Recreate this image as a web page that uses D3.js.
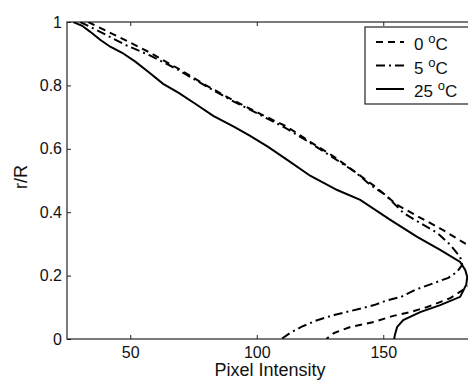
<!DOCTYPE html>
<html>
<head>
<meta charset="utf-8">
<script src="https://cdn.jsdelivr.net/npm/d3@7"></script>
<style>
  body { margin: 0; background: #fff; overflow: hidden; }
  svg { display: block; font-family: "Liberation Sans", Arial, sans-serif; }
</style>
</head>
<body>
<div id="vizcontainer"></div>
<script>
// intensity profiles (r/R vs pixel intensity)
const r0 = [1.000, 0.966, 0.935, 0.903, 0.849, 0.802, 0.758, 0.710, 0.669, 0.622, 0.575, 0.527, 0.483, 0.423, 0.388, 0.347, 0.309, 0.281, 0.243, 0.202, 0.180, 0.164, 0.129, 0.101, 0.085, 0.073, 0.054, 0.038, 0.019, 0];
const i0 = [33.4, 42.1, 50.0, 57.9, 69.8, 79.6, 89.5, 101.4, 112.1, 121.1, 130.6, 138.9, 146.4, 155.5, 163.4, 172.9, 180.8, 186.4, 189.9, 189.9, 187.5, 183.2, 176.5, 167.4, 160.7, 154.0, 146.4, 137.0, 130.6, 127.5];

const r5 = [1.000, 0.969, 0.928, 0.894, 0.849, 0.799, 0.755, 0.710, 0.666, 0.619, 0.572, 0.527, 0.486, 0.455, 0.398, 0.366, 0.335, 0.297, 0.259, 0.234, 0.212, 0.193, 0.177, 0.155, 0.133, 0.120, 0.107, 0.088, 0.076, 0.057, 0.038, 0.019, 0];
const i5 = [30.2, 38.1, 48.0, 57.9, 69.0, 79.6, 89.5, 100.6, 111.3, 121.1, 130.2, 138.9, 144.9, 150.8, 157.9, 164.6, 171.3, 176.5, 180.4, 181.2, 179.2, 175.7, 170.2, 162.6, 157.1, 150.8, 146.4, 137.0, 130.6, 123.1, 117.6, 113.2, 109.7];

const r25 = [1.000, 0.988, 0.969, 0.944, 0.922, 0.903, 0.875, 0.843, 0.805, 0.777, 0.742, 0.704, 0.669, 0.641, 0.606, 0.559, 0.515, 0.470, 0.439, 0.376, 0.322, 0.281, 0.243, 0.218, 0.196, 0.171, 0.133, 0.107, 0.085, 0.060, 0.038, 0.016, 0];
const i25 = [27.5, 31.0, 34.2, 38.1, 42.1, 46.8, 52.0, 57.1, 63.0, 69.0, 75.7, 82.8, 91.1, 97.4, 104.5, 113.2, 121.1, 131.8, 140.9, 152.8, 163.4, 172.5, 180.4, 182.4, 183.2, 182.8, 180.4, 172.5, 164.6, 157.9, 155.5, 154.7, 154.3];

const seriesNames = ['0', '5', '25'];
const xTicks = [50, 100, 150];
const yTicks = [0, 0.2, 0.4, 0.6, 0.8, 1];

const W = 468, H = 381,
  margin = { top: 22, left: 67, bottom: 42 },
  x = d3.scaleLinear().domain([25, 200]).range([margin.left, margin.left + 175 * 2.53]),
  y = d3.scaleLinear().domain([0, 1]).range([H - margin.bottom, margin.top]);

const svg = d3.select('#vizcontainer')
  .append('svg')
  .attr('width', W)
  .attr('height', H);

const x0 = x.range()[0], x1 = x.range()[1], yb = y(0), yt = y(1);

svg.append('clipPath').attr('id', 'plotclip')
  .append('rect').attr('x', x0).attr('y', yt).attr('width', x1 - x0).attr('height', yb - yt);

// axes, ticks inward on all four sides
svg.append('g')
  .attr('transform', `translate(0,${yb})`)
  .call(d3.axisBottom(x).tickValues(xTicks).tickSizeInner(-4).tickSizeOuter(0).tickPadding(8))
  .call(g => g.select('.domain').remove())
  .selectAll('text').style('font-size', '16px').attr('fill', '#111');

svg.append('g')
  .attr('transform', `translate(0,${yt})`)
  .call(d3.axisTop(x).tickValues(xTicks).tickSizeInner(-4).tickSizeOuter(0).tickFormat(''))
  .call(g => g.select('.domain').remove());

svg.append('g')
  .attr('transform', `translate(${x0},0)`)
  .call(d3.axisLeft(y).tickValues(yTicks).tickSizeInner(-4).tickSizeOuter(0).tickPadding(5)
    .tickFormat(d => d === 0 || d === 1 ? d3.format('d')(d) : d3.format('.1f')(d)))
  .call(g => g.select('.domain').remove())
  .selectAll('text').style('font-size', '16px').attr('fill', '#111');

svg.append('rect')
  .attr('x', x0).attr('y', yt).attr('width', x1 - x0).attr('height', yb - yt)
  .attr('fill', 'none').attr('stroke', '#222').attr('stroke-width', 1.2);

svg.selectAll('.tick line').attr('stroke', '#222');

const line = d3.line().x(d => x(d[0])).y(d => y(d[1]));
const curves = [
  { name: '0', data: d3.zip(i0, r0), dash: '7,5' },
  { name: '5', data: d3.zip(i5, r5), dash: '9,4,2,4' },
  { name: '25', data: d3.zip(i25, r25), dash: null }
];

svg.append('g')
  .attr('clip-path', 'url(#plotclip)')
  .selectAll('path')
  .data(curves)
  .join('path')
  .attr('fill', 'none')
  .attr('stroke', '#000')
  .attr('stroke-width', 2)
  .attr('stroke-dasharray', d => d.dash)
  .attr('d', d => line(d.data));

// legend
const lg = svg.append('g');
lg.append('rect')
  .attr('x', 365).attr('y', 27).attr('width', 120).attr('height', 77)
  .attr('fill', '#fff').attr('stroke', '#222').attr('stroke-width', 1.2);

curves.forEach((c, i) => {
  const ly = 42 + i * 23.5;
  lg.append('line')
    .attr('x1', 376).attr('x2', 404).attr('y1', ly).attr('y2', ly)
    .attr('stroke', '#000').attr('stroke-width', 2)
    .attr('stroke-dasharray', c.dash);
  const t = lg.append('text')
    .attr('x', 414).attr('y', ly + 8)
    .style('font-size', '17px').attr('fill', '#111');
  t.append('tspan').text(seriesNames[i] + ' ');
  t.append('tspan').attr('dy', -7).style('font-size', '13px').text('o');
  t.append('tspan').attr('dy', 7).text('C');
});

// axis labels
svg.append('text')
  .attr('x', 270).attr('y', 376)
  .attr('text-anchor', 'middle')
  .style('font-size', '18px').attr('fill', '#111')
  .text('Pixel Intensity');

svg.append('text')
  .attr('transform', 'translate(27,177) rotate(-90)')
  .attr('text-anchor', 'middle')
  .style('font-size', '18px').attr('fill', '#111')
  .text('r/R');
</script>
</body>
</html>
